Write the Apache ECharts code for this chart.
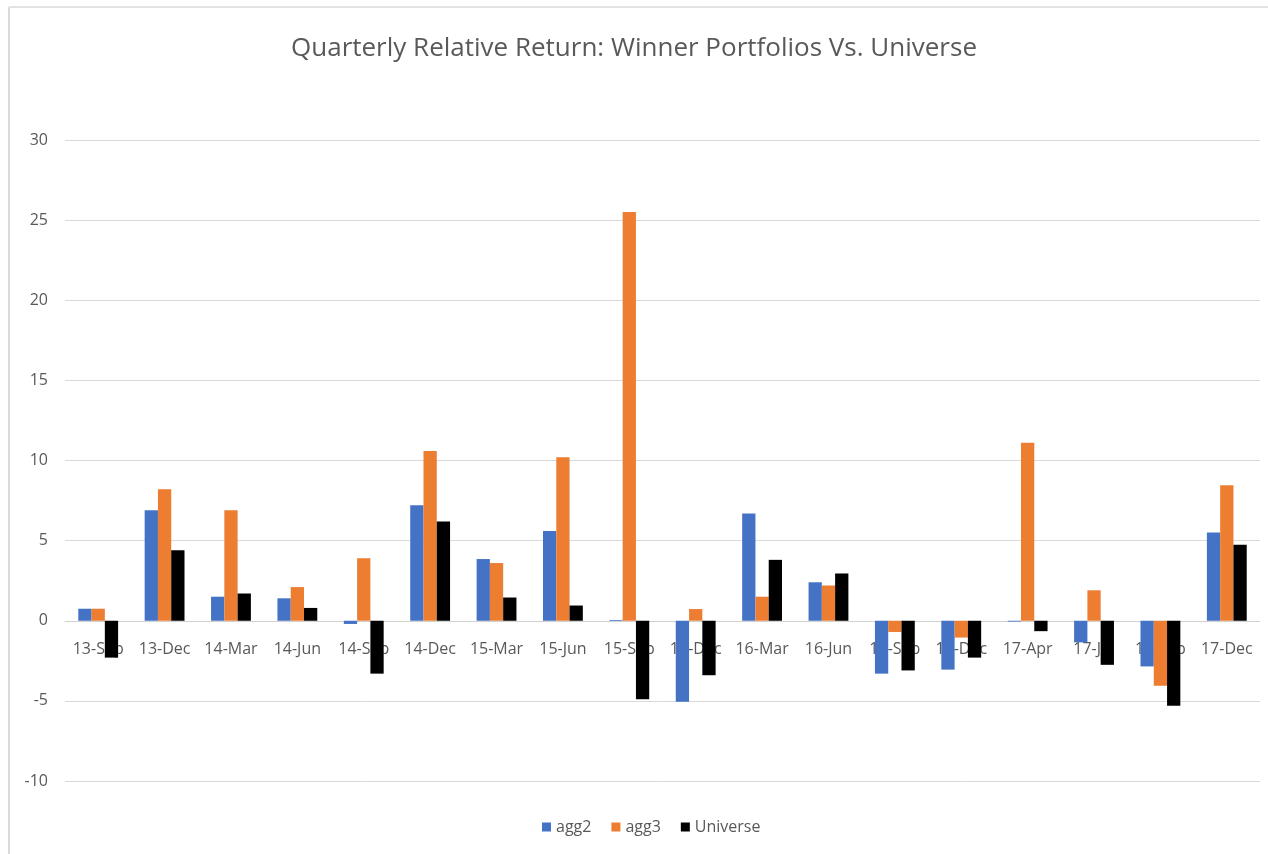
<!DOCTYPE html>
<html>
<head>
<meta charset="utf-8">
<title>Quarterly Relative Return</title>
<script src="https://cdn.jsdelivr.net/npm/echarts@6/dist/echarts.min.js"></script>
<style>
    html, body { margin: 0; padding: 0; background: #fff; }
    #chart { width: 1268px; height: 854px; }
</style>
</head>
<body>
<div id="chart"></div>
<script>
    // quarters on the x axis
    var quarters = ['13-Sep', '13-Dec', '14-Mar', '14-Jun', '14-Sep', '14-Dec', '15-Mar', '15-Jun', '15-Sep',
        '15-Dec', '16-Mar', '16-Jun', '16-Sep', '16-Dec', '17-Apr', '17-Jul', '17-Sep', '17-Dec'];

    // relative returns
    var agg2 = [0.75, 6.9, 1.5, 1.4, -0.2, 7.2, 3.85, 5.6, 0.05, -5.05, 6.7, 2.4, -3.3, -3.05, -0.05, -1.35, -2.85, 5.5];
    var agg3 = [0.75, 8.2, 6.9, 2.1, 3.9, 10.6, 3.6, 10.2, 25.5, 0.73, 1.5, 2.2, -0.7, -1.05, 11.1, 1.9, -4.05, 8.45];
    var universe = [-2.3, 4.4, 1.7, 0.8, -3.3, 6.2, 1.45, 0.95, -4.9, -3.4, 3.8, 2.95, -3.1, -2.3, -0.65, -2.75, -5.3, 4.75];

    var yTicks = { min: -10, max: 30, interval: 5 };

    var textColor = '#595959';
    var font = '"Open Sans", "Liberation Sans", sans-serif';

    var gridTop = 140, gridBottom = 73, chartH = 854;
    // move the category axis up onto the zero line
    var plotH = chartH - gridTop - gridBottom;
    var zeroShift = plotH * (0 - yTicks.min) / (yTicks.max - yTicks.min);

    var myChart = echarts.init(document.getElementById('chart'));
    myChart.setOption({
        animation: false,
        color: ['#4472C4', '#ED7D31', '#000000'],
        title: {
            text: 'Quarterly Relative Return: Winner Portfolios Vs. Universe',
            left: 'center',
            top: 31,
            textStyle: {
                fontFamily: font,
                fontSize: 26,
                fontWeight: 'normal',
                color: textColor
            }
        },
        legend: {
            bottom: 14,
            left: 537,
            icon: 'rect',
            itemWidth: 9,
            itemHeight: 9,
            itemGap: 20,
            textStyle: { fontFamily: font, fontSize: 16, color: textColor },
            data: ['agg2', 'agg3', 'Universe']
        },
        grid: {
            left: 65,
            right: 8,
            top: gridTop,
            bottom: gridBottom
        },
        xAxis: {
            type: 'category',
            data: quarters,
            offset: -zeroShift,
            axisTick: { show: false },
            axisLine: { onZero: false, lineStyle: { color: '#d0d0d0', width: 1 } },
            axisLabel: {
                interval: 0,
                margin: 21,
                fontFamily: font,
                fontSize: 16,
                color: textColor
            }
        },
        yAxis: {
            type: 'value',
            min: yTicks.min,
            max: yTicks.max,
            interval: yTicks.interval,
            axisLine: { show: false },
            axisTick: { show: false },
            splitLine: { lineStyle: { color: '#d9d9d9', width: 1 } },
            axisLabel: {
                margin: 17,
                fontFamily: font,
                fontSize: 16,
                color: textColor
            }
        },
        graphic: [
            // chart frame edges visible in the screenshot
            { type: 'line', shape: { x1: 9, y1: 7, x2: 9, y2: 854 }, style: { stroke: '#d9d9d9', lineWidth: 2 } },
            { type: 'line', shape: { x1: 9, y1: 7, x2: 1268, y2: 7 }, style: { stroke: '#e3e3e3', lineWidth: 2 } }
        ],
        series: [
            { name: 'agg2', type: 'bar', data: agg2, barGap: '0%', barCategoryGap: '40%' },
            { name: 'agg3', type: 'bar', data: agg3, barGap: '0%', barCategoryGap: '40%' },
            { name: 'Universe', type: 'bar', data: universe, barGap: '0%', barCategoryGap: '40%' }
        ]
    });
</script>
</body>
</html>
